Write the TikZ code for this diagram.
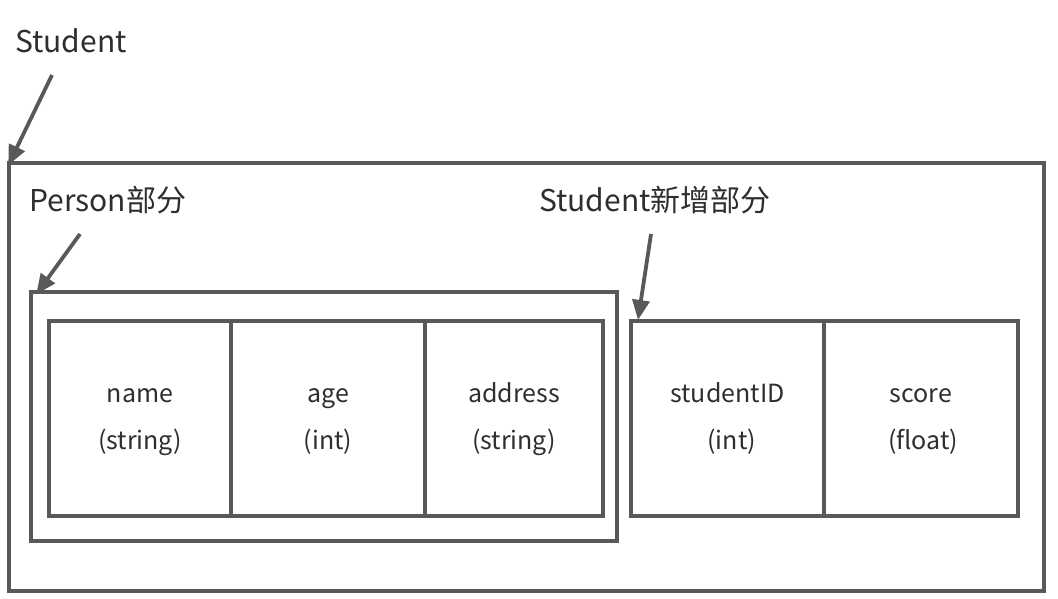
\documentclass[tikz,border=0pt]{standalone}
\usepackage{fontspec}
\setmainfont{Noto Sans CJK SC}
\usetikzlibrary{arrows.meta}
\definecolor{linegray}{HTML}{595959}
\definecolor{textgray}{HTML}{2E2E2E}
\newcommand{\celltext}[2]{\raisebox{1.5pt}[\height][\depth]{\begin{tabular}{@{}c@{}}#1\\#2\end{tabular}}}
\begin{document}
\begin{tikzpicture}[x=1pt,y=-1pt,
  box/.style={draw=linegray, line width=3.5pt, rectangle, inner sep=0pt},
  cell/.style={box, minimum height=195pt, align=center, text=textgray,
    font=\fontsize{25}{47}\selectfont},
  lbl/.style={anchor=west, inner sep=0pt, text=textgray, font=\fontsize{30}{34}\selectfont},
  pointer/.style={draw=linegray, line width=3.8pt, -{Triangle[length=20pt,width=17pt]}}]
\useasboundingbox[fill=white] (0,0) rectangle (1058,598);
\node[box, minimum width=1035pt, minimum height=428pt] (outer) at (526.5,377) {};
\node[box, minimum width=586pt, minimum height=249pt] (person) at (324,416.5) {};
\node[cell, minimum width=182pt] (name) at (140,418.5) {\celltext{name}{(string)}};
\node[cell, minimum width=194pt] (age) at (328,418.5) {\celltext{age}{(int)}};
\node[cell, minimum width=178pt] (address) at (514,418.5) {\celltext{address}{(string)}};
\node[cell, minimum width=193pt] (sid) at (727.5,418.5) {\celltext{studentID}{\,\,(int)}};
\node[cell, minimum width=194pt] (score) at (921,418.5) {\celltext{score}{\,(float)}};
\node[lbl] (lstudent) at (15,41) {Student};
\node[lbl] (lperson) at (29,200) {Person部分};
\node[lbl] (lnew) at (539,200) {Student新增部分};
\coordinate (s1) at (52,75);
\coordinate (p1) at (80,234);
\coordinate (n1) at (651,234);
\coordinate (n2) at (638,320);
\draw[pointer] (s1) -- ([xshift=1pt,yshift=-4pt]outer.north west);
\draw[pointer] (p1) -- ([xshift=7pt,yshift=-4pt]person.north west);
\draw[pointer] (n1) -- (n2);
\end{tikzpicture}
\end{document}
